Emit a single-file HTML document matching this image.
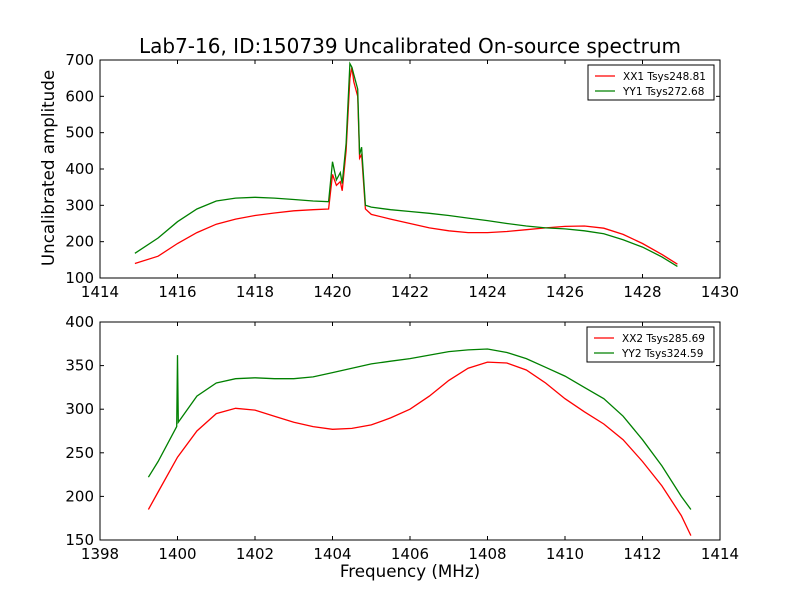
<!DOCTYPE html>
<html><head><meta charset="utf-8"><style>
body{margin:0;background:#fff;}
svg{display:block;font-family:"DejaVu Sans","Liberation Sans",sans-serif;}
</style></head><body>
<svg id="fig" width="800" height="600">
<rect width="800" height="600" fill="#fff"/>
<text x="410" y="53" font-size="20" text-anchor="middle">Lab7-16, ID:150739 Uncalibrated On-source spectrum</text>
<text x="54" y="168" font-size="16.7" text-anchor="middle" transform="rotate(-90 54 168)">Uncalibrated amplitude</text>
<text x="410" y="577" font-size="16.7" text-anchor="middle">Frequency (MHz)</text>
</svg>
<script>
const topFreqs=[1414.9,1415.5,1416,1416.5,1417,1417.5,1418,1418.5,1419,1419.5,1419.9,1420.0,1420.1,1420.2,1420.25,1420.35,1420.45,1420.5,1420.55,1420.65,1420.7,1420.75,1420.85,1421,1421.5,1422,1422.5,1423,1423.5,1424,1424.5,1425,1425.5,1426,1426.5,1427,1427.5,1428,1428.5,1428.9];
const xx1=[140,160,195,225,248,262,272,279,285,288,290,385,355,365,340,450,650,680,640,600,430,440,290,275,262,250,238,230,225,225,228,233,238,242,243,237,220,195,165,138];
const yy1=[168,210,255,290,312,320,322,320,316,312,310,420,370,390,360,470,690,680,660,620,440,460,300,295,288,283,278,272,265,258,250,243,238,235,230,222,205,185,158,132];
const botFreqsX=[1399.25,1399.5,1400,1400.5,1401,1401.5,1402,1402.5,1403,1403.5,1404,1404.5,1405,1405.5,1406,1406.5,1407,1407.5,1408,1408.5,1409,1409.5,1410,1410.5,1411,1411.5,1412,1412.5,1413,1413.25];
const xx2=[185,205,245,275,295,301,299,292,285,280,277,278,282,290,300,315,333,347,354,353,345,330,312,297,283,265,240,212,178,155];
const botFreqsY=[1399.25,1399.5,1399.98,1400.0,1400.02,1400.5,1401,1401.5,1402,1402.5,1403,1403.5,1404,1404.5,1405,1405.5,1406,1406.5,1407,1407.5,1408,1408.5,1409,1409.5,1410,1410.5,1411,1411.5,1412,1412.5,1413,1413.25];
const yy2=[222,240,280,362,285,315,330,335,336,335,335,337,342,347,352,355,358,362,366,368,369,365,358,348,338,325,312,292,265,235,200,185];
const topXTicks=[1414,1416,1418,1420,1422,1424,1426,1428,1430];
const topYTicks=[100,200,300,400,500,600,700];
const botXTicks=[1398,1400,1402,1404,1406,1408,1410,1412,1414];
const botYTicks=[150,200,250,300,350,400];

const NS="http://www.w3.org/2000/svg";
const svg=document.getElementById('fig');
function mk(tag,attrs,parent){const e=document.createElementNS(NS,tag);for(const k in attrs)e.setAttribute(k,attrs[k]);(parent||svg).appendChild(e);return e;}

function panel(cfg){
  const {x0,x1,y0,y1,xmin,xmax,ymin,ymax,xt,yt,series,legend,name}=cfg;
  const sx=v=>x0+(v-xmin)/(xmax-xmin)*(x1-x0);
  const sy=v=>y1-(v-ymin)/(ymax-ymin)*(y1-y0);
  const g=mk('g',{});
  
  
  series.forEach(s=>{
    const d=s.f.map((f,i)=>(i?'L':'M')+sx(f).toFixed(1)+','+sy(s.v[i]).toFixed(1)).join('');
    const p=mk('path',{d:d,fill:'none',stroke:s.c,'stroke-width':1.3},g);
    
    
  });
  const fr=mk('rect',{x:x0,y:y0,width:x1-x0,height:y1-y0,fill:'none',stroke:'#000','stroke-width':1},g);
  
  
  xt.forEach(t=>{
    const X=sx(t);
    mk('line',{x1:X,x2:X,y1:y1,y2:y1-4,stroke:'#000'},g);
    mk('line',{x1:X,x2:X,y1:y0,y2:y0+4,stroke:'#000'},g);
    const tx=mk('text',{x:X,y:y1+19,'font-size':15,'text-anchor':'middle'},g);
    tx.textContent=t;
    
    
  });
  yt.forEach(t=>{
    const Y=sy(t);
    mk('line',{x1:x0,x2:x0+4,y1:Y,y2:Y,stroke:'#000'},g);
    mk('line',{x1:x1,x2:x1-4,y1:Y,y2:Y,stroke:'#000'},g);
    const tx=mk('text',{x:x0-6,y:Y+5,'font-size':15,'text-anchor':'end'},g);
    tx.textContent=t;
    
    
  });
  const lg=mk('g',{},g);
  
  
  mk('rect',{x:legend.x,y:legend.y,width:legend.w,height:35,fill:'#fff',stroke:'#000'},lg);
  series.forEach((s,i)=>{
    const yy=legend.y+11+i*15;
    mk('line',{x1:legend.x+7,x2:legend.x+27,y1:yy,y2:yy,stroke:s.c,'stroke-width':1.3},lg);
    const t=mk('text',{x:legend.x+35,y:yy+4,'font-size':10.5},lg);
    t.textContent=s.label;
    
    
  });
}
panel({name:'top-panel',x0:100,x1:720,y0:60,y1:278,xmin:1414,xmax:1430,ymin:100,ymax:700,xt:topXTicks,yt:topYTicks,
  series:[{f:topFreqs,v:xx1,c:'#ff0000',n:'series-xx1',label:'XX1 Tsys248.81'},{f:topFreqs,v:yy1,c:'#008000',n:'series-yy1',label:'YY1 Tsys272.68'}],
  legend:{x:588,y:65,w:126}});
panel({name:'bottom-panel',x0:100,x1:720,y0:322,y1:540,xmin:1398,xmax:1414,ymin:150,ymax:400,xt:botXTicks,yt:botYTicks,
  series:[{f:botFreqsX,v:xx2,c:'#ff0000',n:'series-xx2',label:'XX2 Tsys285.69'},{f:botFreqsY,v:yy2,c:'#008000',n:'series-yy2',label:'YY2 Tsys324.59'}],
  legend:{x:587,y:327,w:127}});
</script>
</body></html>
